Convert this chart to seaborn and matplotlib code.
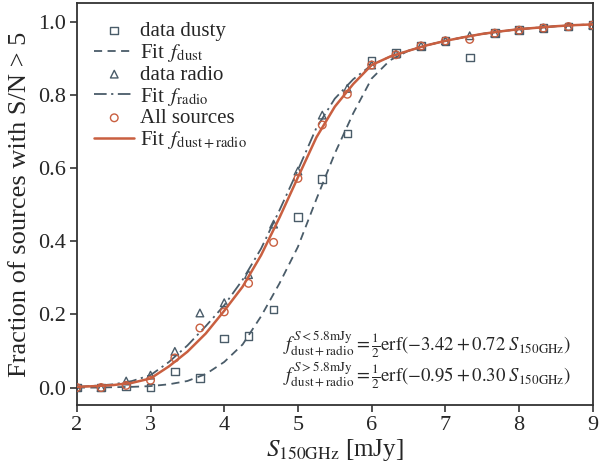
import numpy as np
import pandas as pd
import matplotlib
matplotlib.use("Agg")
import matplotlib.pyplot as plt
import seaborn as sns

# --- measured fractions (one point every 1/3 mJy) ---
flux = [2.0, 2.33, 2.67, 3.0, 3.33, 3.67, 4.0, 4.33, 4.67, 5.0, 5.33,
        5.67, 6.0, 6.33, 6.67, 7.0, 7.33, 7.67, 8.0, 8.33, 8.67, 9.0]
frac_dusty = [0.0, 0.0, 0.003, 0.0, 0.044, 0.027, 0.134, 0.141, 0.214, 0.467, 0.570,
              0.695, 0.894, 0.914, 0.934, 0.948, 0.903, 0.969, 0.977, 0.983, 0.987, 0.991]
frac_radio = [0.0, 0.0, 0.018, 0.034, 0.099, 0.204, 0.232, 0.309, 0.447, 0.592, 0.745,
              0.818, 0.882, 0.912, 0.934, 0.948, 0.962, 0.969, 0.977, 0.983, 0.987, 0.991]
frac_all = [0.0, 0.0, 0.006, 0.020, 0.081, 0.163, 0.207, 0.285, 0.397, 0.572, 0.718,
            0.802, 0.882, 0.910, 0.934, 0.948, 0.952, 0.969, 0.977, 0.983, 0.987, 0.991]

# --- fit curves (every 0.25 mJy) ---
fit_flux = [2.0, 2.25, 2.5, 2.75, 3.0, 3.25, 3.5, 3.75, 4.0, 4.25, 4.5, 4.75, 5.0, 5.25,
            5.5, 5.75, 6.0, 6.25, 6.5, 6.75, 7.0, 7.25, 7.5, 7.75, 8.0, 8.25, 8.5, 8.75, 9.0]
fit_dust = [0.0, 0.0, 0.001, 0.002, 0.004, 0.009, 0.018, 0.037, 0.070, 0.118, 0.195, 0.285,
            0.385, 0.515, 0.640, 0.750, 0.845, 0.895, 0.921, 0.936, 0.948, 0.958, 0.967,
            0.974, 0.980, 0.984, 0.988, 0.991, 0.993]
fit_radio = [0.002, 0.005, 0.009, 0.018, 0.034, 0.070, 0.115, 0.168, 0.225, 0.295, 0.380,
             0.485, 0.595, 0.710, 0.790, 0.843, 0.882, 0.905, 0.921, 0.936, 0.948, 0.958,
             0.967, 0.974, 0.980, 0.984, 0.988, 0.991, 0.993]
fit_all = [0.002, 0.004, 0.007, 0.013, 0.025, 0.058, 0.098, 0.148, 0.210, 0.276, 0.362,
           0.465, 0.575, 0.684, 0.768, 0.830, 0.882, 0.905, 0.921, 0.936, 0.948, 0.958,
           0.967, 0.974, 0.980, 0.984, 0.988, 0.991, 0.993]

GREY = "#4a5c69"
ORANGE = "#c95f40"

sns.set_style("ticks")
plt.rcParams['font.family'] = ['Liberation Serif', 'DejaVu Serif']
plt.rcParams['mathtext.fontset'] = 'stix'
plt.rcParams['axes.edgecolor'] = '#333333'
plt.rcParams['axes.linewidth'] = 1.3

fig = plt.figure(figsize=(6.0, 4.7), dpi=100)
ax = fig.add_axes([0.128, 0.138, 0.86, 0.856])

pts = pd.DataFrame({"S": flux, "dusty": frac_dusty, "radio": frac_radio, "all": frac_all})
fits = pd.DataFrame({"S": fit_flux, "dust": fit_dust, "radio": fit_radio, "all": fit_all})

sns.scatterplot(data=pts, x="S", y="dusty", marker="s", s=30, facecolor="none",
                edgecolor=GREY, linewidth=1.0, label="data dusty", ax=ax, zorder=3)
sns.lineplot(data=fits, x="S", y="dust", color=GREY, lw=1.3, ls=(0, (4.5, 3)),
             label=r"Fit $\,f_{\rm dust}$", ax=ax, zorder=2)
sns.scatterplot(data=pts, x="S", y="radio", marker="^", s=30, facecolor="none",
                edgecolor=GREY, linewidth=1.0, label="data radio", ax=ax, zorder=3)
sns.lineplot(data=fits, x="S", y="radio", color=GREY, lw=1.3, ls=(0, (7, 2.5, 1.2, 2.5)),
             label=r"Fit $\,f_{\rm radio}$", ax=ax, zorder=2)
sns.scatterplot(data=pts, x="S", y="all", marker="o", s=30, facecolor="none",
                edgecolor=ORANGE, linewidth=1.0, label="All sources", ax=ax, zorder=3)
sns.lineplot(data=fits, x="S", y="all", color=ORANGE, lw=1.8,
             label=r"Fit $\,f_{\rm dust+radio}$", ax=ax, zorder=4)

ax.set_xlim(2, 9)
ax.set_ylim(-0.048, 1.052)
ax.set_xticks([2, 3, 4, 5, 6, 7, 8, 9])
ax.set_yticks([0.0, 0.2, 0.4, 0.6, 0.8, 1.0])
ax.set_yticklabels(["0.0", "0.2", "0.4", "0.6", "0.8", "1.0"])
ax.tick_params(labelsize=16, length=5, width=1.2, color='#333333', pad=3)
ax.set_xlabel(r"$S_{\rm 150GHz}$ [mJy]", fontsize=18, labelpad=1)
ax.set_ylabel("Fraction of sources with S/N > 5", fontsize=19, labelpad=5)
for sp in ax.spines.values():
    sp.set_visible(True)

ax.legend(loc="upper left", frameon=False, fontsize=15, handlelength=1.9,
          labelspacing=0.05, borderaxespad=0.2, handletextpad=0.3,
          bbox_to_anchor=(0.01, 0.985))

eq_low = r"$f_{\rm dust+radio}^{S{<}5.8{\rm mJy}} = \frac{1}{2}{\rm erf}(-3.42+0.72\ S_{\rm 150GHz})$"
eq_high = r"$f_{\rm dust+radio}^{S{>}5.8{\rm mJy}} = \frac{1}{2}{\rm erf}(-0.95+0.30\ S_{\rm 150GHz})$"
ax.text(0.4, 0.111, eq_low + "\n" + eq_high, transform=ax.transAxes, fontsize=13.5,
        ha="left", va="center", linespacing=1.0)

fig.savefig("out.png", dpi=100)
